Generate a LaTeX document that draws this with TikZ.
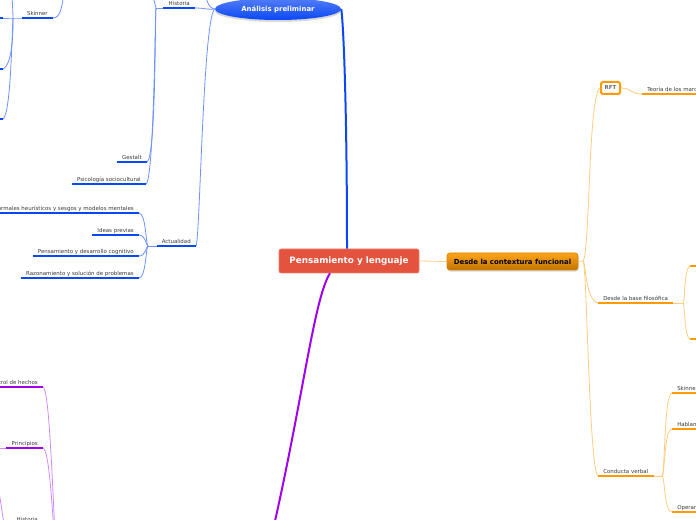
\documentclass[tikz,border=0pt]{standalone}
\usepackage{fontspec}
\setmainfont{DejaVu Sans}
\usetikzlibrary{shapes.geometric, shadows, positioning}
\definecolor{mapred}{HTML}{E4533D}
\definecolor{mapblue}{HTML}{0A47F6}
\definecolor{mapbluelt}{HTML}{6E93FF}
\definecolor{maporange}{HTML}{FF9A00}
\definecolor{maporangelt}{HTML}{FFCC80}
\definecolor{mappurple}{HTML}{A000F0}
\definecolor{mappurplelt}{HTML}{CF8BFF}
\definecolor{labelgray}{HTML}{3A3A3A}
\tikzset{>=latex,
	topic/.style={inner xsep=3.75pt, inner ysep=0.8pt, text height=3.1pt, text depth=0.9pt, text=labelgray, font=\fontsize{4.1}{5}\selectfont},
	lefttopic/.style={topic, anchor=south east},
	righttopic/.style={topic, anchor=south west},
	ulblue/.style={draw=mapblue, line width=1.9pt},
	ulorange/.style={draw=maporange, line width=1.9pt},
	ulpurple/.style={draw=mappurple, line width=1.9pt},
	linkblue/.style={draw=mapbluelt, line width=0.6pt},
	linkorange/.style={draw=maporangelt, line width=0.6pt},
	linkpurple/.style={draw=mappurplelt, line width=0.6pt}
}

\begin{document}
\begin{tikzpicture}[x=0.75pt, y=-0.75pt]
	\useasboundingbox (0,0) rectangle (696,520);
	\fill[white] (0,0) rectangle (696,520);
	\clip (0,0) rectangle (696,520);
	% Main topics:
	\node[draw=mapred!75!white, fill=mapred, rounded corners=1.5pt, minimum width=105pt, minimum height=18pt, text=white, font=\bfseries\fontsize{6.6}{8}\selectfont] (pl) at (349,261) {Pensamiento y lenguaje};
	\node[shape=ellipse, top color=mapblue!70!white, bottom color=mapblue, drop shadow={shadow xshift=0pt, shadow yshift=-1.5pt, opacity=0.3}, minimum width=94.5pt, minimum height=16.5pt, inner sep=0pt, text=white, font=\bfseries\fontsize{5.2}{6}\selectfont] (anal) at (278,9) {Análisis preliminar};
	\node[draw=maporange!85!black, rounded corners=2pt, top color=maporange!90!white, bottom color=maporange!75!black, drop shadow={shadow xshift=0.5pt, shadow yshift=-1.2pt, opacity=0.3}, minimum width=98.25pt, minimum height=12.75pt, inner sep=0pt, font=\bfseries\fontsize{5.2}{6}\selectfont] (desde) at (512.5,261.5) {Desde la contextura funcional};
	\node[draw=maporange, line width=1.5pt, fill=white, rounded corners=1.5pt, minimum width=14.25pt, minimum height=9pt, inner sep=0pt, text=labelgray!75, font=\bfseries\fontsize{4.1}{5}\selectfont] (rft) at (610.5,88) {RFT};

	% Blue branch:
	\node[lefttopic] (hist) at (195,8) {Historia};
	\node[lefttopic] (gest) at (147,162) {Gestalt};
	\node[lefttopic] (psico) at (146,184) {Psicología sociocultural};
	\node[lefttopic] (skin) at (53,18) {Skinner};
	\node[lefttopic] (actu) at (196,246) {Actualidad};
	\node[lefttopic] (heur) at (139,213) {informales heurísticos y sesgos y modelos mentales};
	\node[lefttopic] (ideas) at (139,235) {Ideas previas};
	\node[lefttopic] (pdes) at (139,256) {Pensamiento y desarrollo cognitivo};
	\node[lefttopic] (razo) at (139,278) {Razonamiento y solución de problemas};
	\coordinate (analup) at (203,-25);
	\coordinate (histj) at (156,8);
	\coordinate (histup) at (150,-25);
	\coordinate (skinup) at (64,-8);
	\coordinate (skj) at (13,18);
	\coordinate (skup) at (11,-25);
	\coordinate (sk1) at (3,18);
	\coordinate (sk2) at (3,69);
	\coordinate (sk3) at (3,119);
	\coordinate (actj) at (148,246);
	\draw[mapblue, line width=1.5pt] ([xshift=-1.5pt]pl.north) .. controls (347,120) and (344,30) .. (anal.east);
	\draw[linkblue] (hist.south east) .. controls (205,8) and (208,10) .. (anal.west);
	\draw[linkblue] (anal.west) .. controls (208,8) and (205,0) .. (analup);
	\draw[linkblue] (anal.west) .. controls (203,18) and (200,240) .. (actu.south east);
	\draw[linkblue] (hist.south west) -- (histj);
	\draw[linkblue] (histj) .. controls (155,4) and (152,-5) .. (histup);
	\draw[linkblue] (histj) .. controls (155,14) and (156,158) .. (gest.south east);
	\draw[linkblue] (histj) .. controls (155,14) and (154,180) .. (psico.south east);
	\draw[linkblue] (skin.south east) .. controls (60,18) and (62,8) .. (skinup);
	\draw[linkblue] (skin.south west) -- (skj) -- (sk1);
	\draw[linkblue] (skj) .. controls (13,10) and (12,0) .. (skup);
	\draw[linkblue] (skj) .. controls (13,30) and (13,64) .. (sk2);
	\draw[linkblue] (skj) .. controls (12,30) and (11,114) .. (sk3);
	\draw[linkblue] (actu.south west) -- (actj);
	\foreach \kid in {heur, ideas, pdes, razo}
		\draw[linkblue] (actj) .. controls (146,246) and (146,246 |- \kid.south east) .. (\kid.south east);
	\foreach \kid in {hist, gest, psico, skin, actu, heur, ideas, pdes, razo}
		\draw[ulblue] (\kid.south west) -- (\kid.south east);
	\draw[ulblue] (-20,18) -- (sk1);
	\draw[ulblue] (-20,69) -- (sk2);
	\draw[ulblue] (-20,119) -- (sk3);

	% Orange branch:
	\node[righttopic] (teor) at (642,94) {Teoría de los marcos relacionales};
	\node[righttopic] (base) at (598,303) {Desde la base filosófica};
	\node[righttopic] (cverb) at (598,476) {Conducta verbal};
	\node[righttopic] (skin2) at (672,393) {Skinner};
	\node[righttopic] (habl) at (672,429) {Hablante};
	\node[righttopic] (oper) at (672,512) {Operante};
	\coordinate (dj) at (583,261);
	\coordinate (bj) at (683,303);
	\coordinate (bs1) at (690,266);
	\coordinate (bs2) at (690,339);
	\coordinate (cj) at (662,476);
	\draw[linkorange] (pl.east) -- (desde.west);
	\draw[linkorange] (desde.east) -- (dj);
	\draw[linkorange] (dj) .. controls (590,255) and (588,95) .. (rft.west);
	\draw[linkorange] (dj) .. controls (586,262) and (585,300) .. (base.south west);
	\draw[linkorange] (dj) .. controls (587,262) and (589,470) .. (cverb.south west);
	\draw[linkorange] (rft.east) .. controls (632,88) and (630,94) .. (teor.south west);
	\draw[linkorange] (base.south east) -- (bj);
	\draw[linkorange] (bj) .. controls (685,303) and (684,268) .. (bs1);
	\draw[linkorange] (bj) .. controls (685,303) and (684,337) .. (bs2);
	\draw[linkorange] (cverb.south east) -- (cj);
	\foreach \kid in {skin2, habl, oper}
		\draw[linkorange] (cj) .. controls (665,476) and (664,476 |- \kid.south west) .. (\kid.south west);
	\foreach \kid in {teor, base, cverb, skin2, habl, oper}
		\draw[ulorange] (\kid.south west) -- (\kid.south east);
	\draw[ulorange] (bs1) -- (710,266);
	\draw[ulorange] (bs2) -- (710,339);

	% Purple branch:
	\node[lefttopic] (ctrl) at (43,387) {Control de hechos};
	\node[lefttopic] (princ) at (43,448) {Principios};
	\node[lefttopic] (histp) at (43,524) {Historia};
	\coordinate (purplemain) at (266,560);
	\coordinate (phub) at (57,580);
	\coordinate (princkid) at (-10,448);
	\coordinate (hpj) at (5,524);
	\coordinate (hpup) at (-5,470);
	\draw[mappurple, line width=1.5pt] ([xshift=-14.25pt]pl.south) .. controls (313,300) and (302,410) .. (purplemain);
	\draw[linkpurple] (ctrl.south east) .. controls (49,390) and (52,470) .. (phub);
	\draw[linkpurple] (princ.south east) .. controls (49,450) and (52,500) .. (phub);
	\draw[linkpurple] (princ.south west) -- (princkid);
	\draw[linkpurple] (histp.south west) -- (hpj);
	\draw[linkpurple] (hpj) .. controls (3,524) and (2,505) .. (hpup);
	\foreach \kid in {ctrl, princ, histp}
		\draw[ulpurple] (\kid.south west) -- (\kid.south east);
\end{tikzpicture}
\end{document}
